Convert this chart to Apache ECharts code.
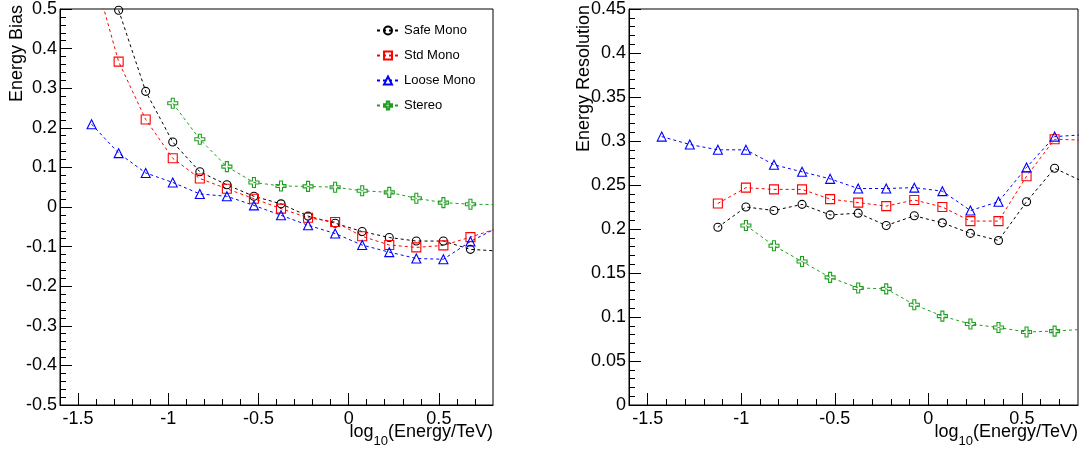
<!DOCTYPE html>
<html>
<head>
<meta charset="utf-8">
<script src="https://cdn.jsdelivr.net/npm/echarts@6/dist/echarts.min.js"></script>
<style>
html,body{margin:0;padding:0;background:#fff;}
#chart{width:1083px;height:454px;}
</style>
</head>
<body>
<div id="chart"></div>
<script>
// log10(Energy/TeV) bin centres
var energies = [-1.425, -1.275, -1.125, -0.975, -0.825, -0.675, -0.525, -0.375, -0.225, -0.075, 0.075, 0.225, 0.375, 0.525, 0.675, 0.825];

// Energy bias (left panel)
var safeBias   = [null, 0.497, 0.292, 0.164, 0.089, 0.056, 0.027, 0.008, -0.023, -0.041, -0.062, -0.077, -0.086, -0.086, -0.107, -0.111];
var stdBias    = [0.61, 0.367, 0.221, 0.123, 0.072, 0.046, 0.021, -0.004, -0.027, -0.038, -0.074, -0.096, -0.102, -0.097, -0.076, -0.054];
var looseBias  = [0.209, 0.136, 0.086, 0.062, 0.033, 0.027, 0.004, -0.021, -0.046, -0.067, -0.096, -0.114, -0.130, -0.132, -0.087, -0.052];
var stereoBias = [null, null, null, 0.262, 0.171, 0.102, 0.062, 0.053, 0.052, 0.050, 0.041, 0.037, 0.022, 0.011, 0.007, 0.006];

// Energy resolution (right panel)
var safeRes   = [null, null, 0.202, 0.225, 0.221, 0.228, 0.216, 0.218, 0.204, 0.215, 0.207, 0.195, 0.187, 0.231, 0.269, 0.254];
var stdRes    = [null, null, 0.229, 0.247, 0.245, 0.245, 0.234, 0.230, 0.226, 0.233, 0.225, 0.209, 0.209, 0.260, 0.302, 0.301];
var looseRes  = [0.305, 0.296, 0.290, 0.290, 0.273, 0.265, 0.257, 0.246, 0.246, 0.247, 0.243, 0.221, 0.231, 0.270, 0.305, 0.307];
var stereoRes = [null, null, null, 0.204, 0.181, 0.163, 0.145, 0.133, 0.132, 0.114, 0.101, 0.092, 0.088, 0.083, 0.084, 0.086];

var seriesNames = ['Safe Mono', 'Std Mono', 'Loose Mono', 'Stereo'];

// axis tick labels
var xTickLabels = [-1.5, -1, -0.5, 0, 0.5];
var xMinorTicks = [-1.4, -1.3, -1.2, -1.1, -0.9, -0.8, -0.7, -0.6, -0.4, -0.3, -0.2, -0.1, 0.1, 0.2, 0.3, 0.4, 0.6, 0.7];

var FONT = '"Liberation Sans", Arial, Helvetica, sans-serif';
var colors = ['#000000', '#ff0000', '#0000ff', '#1f9f1f'];
var crossPath = 'path://M3.5,0 H6.5 V3.5 H10 V6.5 H6.5 V10 H3.5 V6.5 H0 V3.5 H3.5 Z';
var symbols = ['circle', 'rect', 'triangle', crossPath];
var symSizes = [8, 9, 9, 10];

function pairs(arr) {
  var out = [];
  for (var i = 0; i < energies.length; i++) {
    if (arr[i] !== null) out.push([energies[i], arr[i]]);
  }
  return out;
}

function makeSeries(name, idx, arr, axisIdx) {
  return {
    name: name,
    type: 'line',
    xAxisIndex: axisIdx,
    yAxisIndex: axisIdx,
    data: pairs(arr),
    color: colors[idx],
    symbol: symbols[idx],
    symbolSize: symSizes[idx],
    showAllSymbol: true,
    clip: true,
    lineStyle: { color: colors[idx], width: 1, type: [3, 3] },
    itemStyle: { color: 'rgba(0,0,0,0)', borderColor: colors[idx], borderWidth: 1.1 },
    emphasis: { disabled: true },
    animation: false,
    z: 3
  };
}

function xAxisMain(gridIndex) {
  return {
    type: 'value', gridIndex: gridIndex, min: -1.6, max: 0.8,
    axisLine: { show: true, onZero: false, lineStyle: { color: '#000', width: 1 } },
    axisTick: { show: true, inside: true, length: 12, customValues: xTickLabels, lineStyle: { color: '#000', width: 1 } },
    axisLabel: { show: true, customValues: xTickLabels, color: '#000', fontSize: 18, fontFamily: FONT, margin: 5,
      formatter: function (v) { return String(v); } },
    splitLine: { show: false }
  };
}
function xAxisMinor(gridIndex) {
  return {
    type: 'value', gridIndex: gridIndex, min: -1.6, max: 0.8, position: 'bottom',
    axisLine: { show: false, onZero: false },
    axisTick: { show: true, inside: true, length: 6, customValues: xMinorTicks, lineStyle: { color: '#000', width: 1 } },
    axisLabel: { show: false },
    splitLine: { show: false }
  };
}
function yAxis(gridIndex, min, max, interval) {
  return {
    type: 'value', gridIndex: gridIndex, min: min, max: max, interval: interval,
    axisLine: { show: true, onZero: false, lineStyle: { color: '#000', width: 1 } },
    axisTick: { show: true, inside: true, length: 12, lineStyle: { color: '#000', width: 1 } },
    minorTick: { show: true, splitNumber: 5, length: 6, lineStyle: { color: '#000', width: 1 } },
    axisLabel: { color: '#000', fontSize: 18, fontFamily: FONT, margin: 3 },
    splitLine: { show: false },
    minorSplitLine: { show: false }
  };
}

function xTitle(rightX) {
  return {
    type: 'text', right: 1083 - rightX, top: 423,
    style: {
      text: '{a|log}{s|10}{a|(Energy/TeV)}',
      fill: '#000', font: '18px ' + FONT,
      rich: {
        a: { fontSize: 18, fontFamily: FONT, verticalAlign: 'top', fill: '#000' },
        s: { fontSize: 13, fontFamily: FONT, verticalAlign: 'top', padding: [12, 0, 0, 0], fill: '#000' }
      }
    }
  };
}
function yTitle(cx, text) {
  return {
    type: 'text', x: cx, y: 5, rotation: Math.PI / 2,
    style: { text: text, fill: '#000', font: '18px ' + FONT, align: 'right', verticalAlign: 'middle' }
  };
}

var chart = echarts.init(document.getElementById('chart'), null, { renderer: 'canvas' });
var option = {
  animation: false,
  backgroundColor: '#ffffff',
  grid: [
    { left: 60, top: 5, width: 433, height: 400, show: true, borderColor: '#000', borderWidth: 1, backgroundColor: 'transparent' },
    { left: 629, top: 5, width: 449, height: 400, show: true, borderColor: '#000', borderWidth: 1, backgroundColor: 'transparent' }
  ],
  xAxis: [xAxisMain(0), xAxisMain(1), xAxisMinor(0), xAxisMinor(1)],
  yAxis: [yAxis(0, -0.5, 0.5, 0.1), yAxis(1, 0, 0.45, 0.05)],
  legend: {
    data: seriesNames,
    orient: 'vertical',
    left: 371, top: 19,
    itemWidth: 22, itemHeight: 10, itemGap: 12,
    textStyle: { color: '#000', fontSize: 13, fontFamily: FONT, padding: [0, 0, 0, 0] },
    selectedMode: false
  },
  graphic: [
    xTitle(493), xTitle(1078),
    yTitle(17, 'Energy Bias'),
    yTitle(584, 'Energy Resolution')
  ],
  series: [
    makeSeries('Safe Mono', 0, safeBias, 0),
    makeSeries('Std Mono', 1, stdBias, 0),
    makeSeries('Loose Mono', 2, looseBias, 0),
    makeSeries('Stereo', 3, stereoBias, 0),
    makeSeries('Safe Mono', 0, safeRes, 1),
    makeSeries('Std Mono', 1, stdRes, 1),
    makeSeries('Loose Mono', 2, looseRes, 1),
    makeSeries('Stereo', 3, stereoRes, 1)
  ]
};
chart.setOption(option);
</script>
</body>
</html>
